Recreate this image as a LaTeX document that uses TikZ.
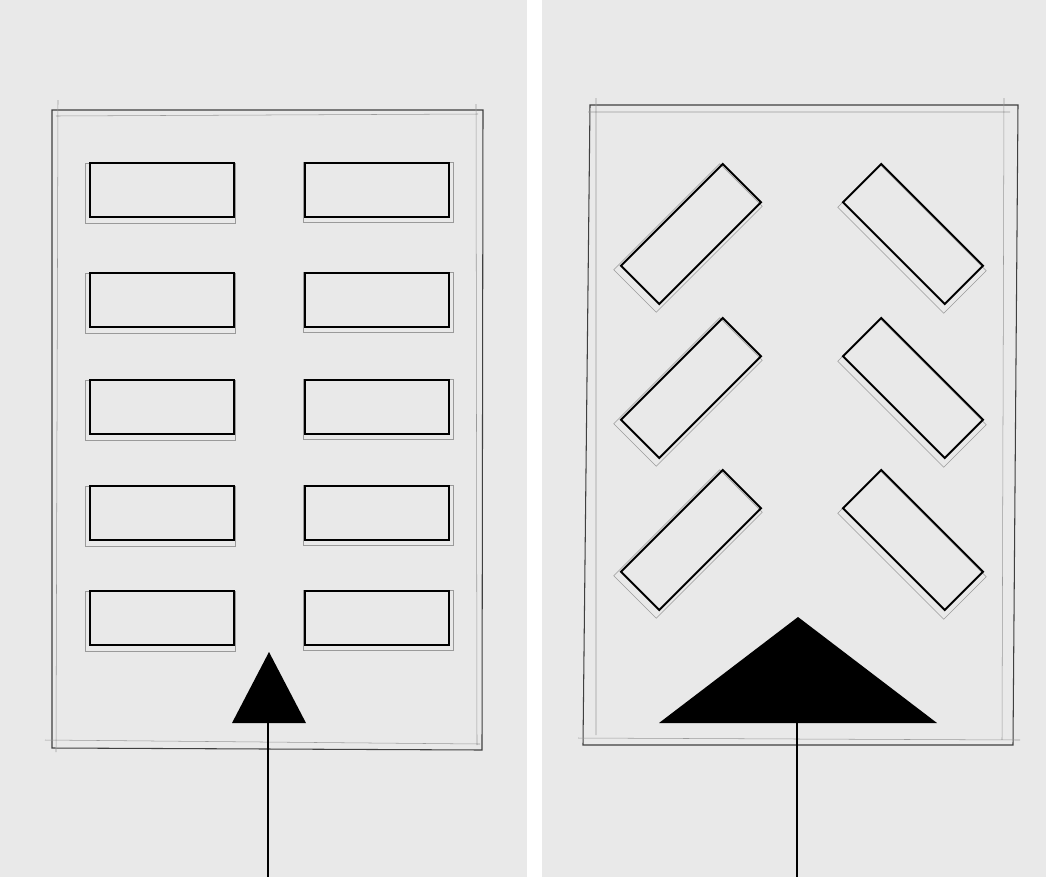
\documentclass[tikz,border=0pt]{standalone}
\usepackage{tikz}
\definecolor{paper}{HTML}{E9E9E9}
\definecolor{pencil}{HTML}{9A9A9A}
\begin{document}
\begin{tikzpicture} [x=0.02cm, y=-0.02cm,
	desk/.style = {draw, line width=1.1pt, minimum width=2.88cm, minimum height=1.08cm, inner sep=0pt},
	guide/.style = {draw=pencil, line width=0.3pt, minimum width=3.0cm, minimum height=1.2cm, inner sep=0pt},
	wall/.style = {draw=black!75, line width=0.6pt},
	sketch/.style = {pencil, line width=0.3pt}]
	\useasboundingbox (0,0) rectangle (1046,877);
	% the two sheets
	\fill [paper] (0,0) rectangle (527,877);
	\fill [paper] (542,0) rectangle (1046,877);
	\fill [white] (527,0) rectangle (542,877);

	%% left room: rows of desks
	\draw [wall] (52,110) -- (483,110) -- (482,750) -- (52,748) -- cycle;
	\draw [sketch] (56,116) -- (478,114) (476,104) -- (477,745) (45,740) -- (480,744) (58,100) -- (56,752);
	\foreach \row/\y in {1/190, 2/300, 3/407, 4/513, 5/618} {
		\node [guide] at (160,\y+3) {};
		\node [guide] at (378,\y+2) {};
		\node [desk] (deskL\row) at (162,\y) {};
		\node [desk] (deskR\row) at (377,\y) {};
	}
	\fill (269,652) -- (306,723) -- (232,723) -- cycle;
	\coordinate (doorL) at (268,723);
	\coordinate (outL) at (268,877);
	\draw [line width=0.8pt] (doorL) -- (outL);

	%% right room: angled desks
	\draw [wall] (590,105) -- (1018,105) -- (1013,745) -- (583,745) -- cycle;
	\draw [sketch] (596,98) -- (596,735) (588,112) -- (1010,112) (1004,98) -- (1002,740) (578,738) -- (1020,740);
	\foreach \row/\y in {1/234, 2/388, 3/540} {
		\node [guide, rotate=45] at (688,\y+4) {};
		\node [guide, rotate=-45] at (912,\y+5) {};
		\node [desk, rotate=45] (tiltL\row) at (691,\y) {};
		\node [desk, rotate=-45] (tiltR\row) at (913,\y) {};
	}
	\fill (798,617) -- (937,723) -- (659,723) -- cycle;
	\coordinate (doorR) at (797,723);
	\coordinate (outR) at (797,877);
	\draw [line width=0.8pt] (doorR) -- (outR);
\end{tikzpicture}
\end{document}
